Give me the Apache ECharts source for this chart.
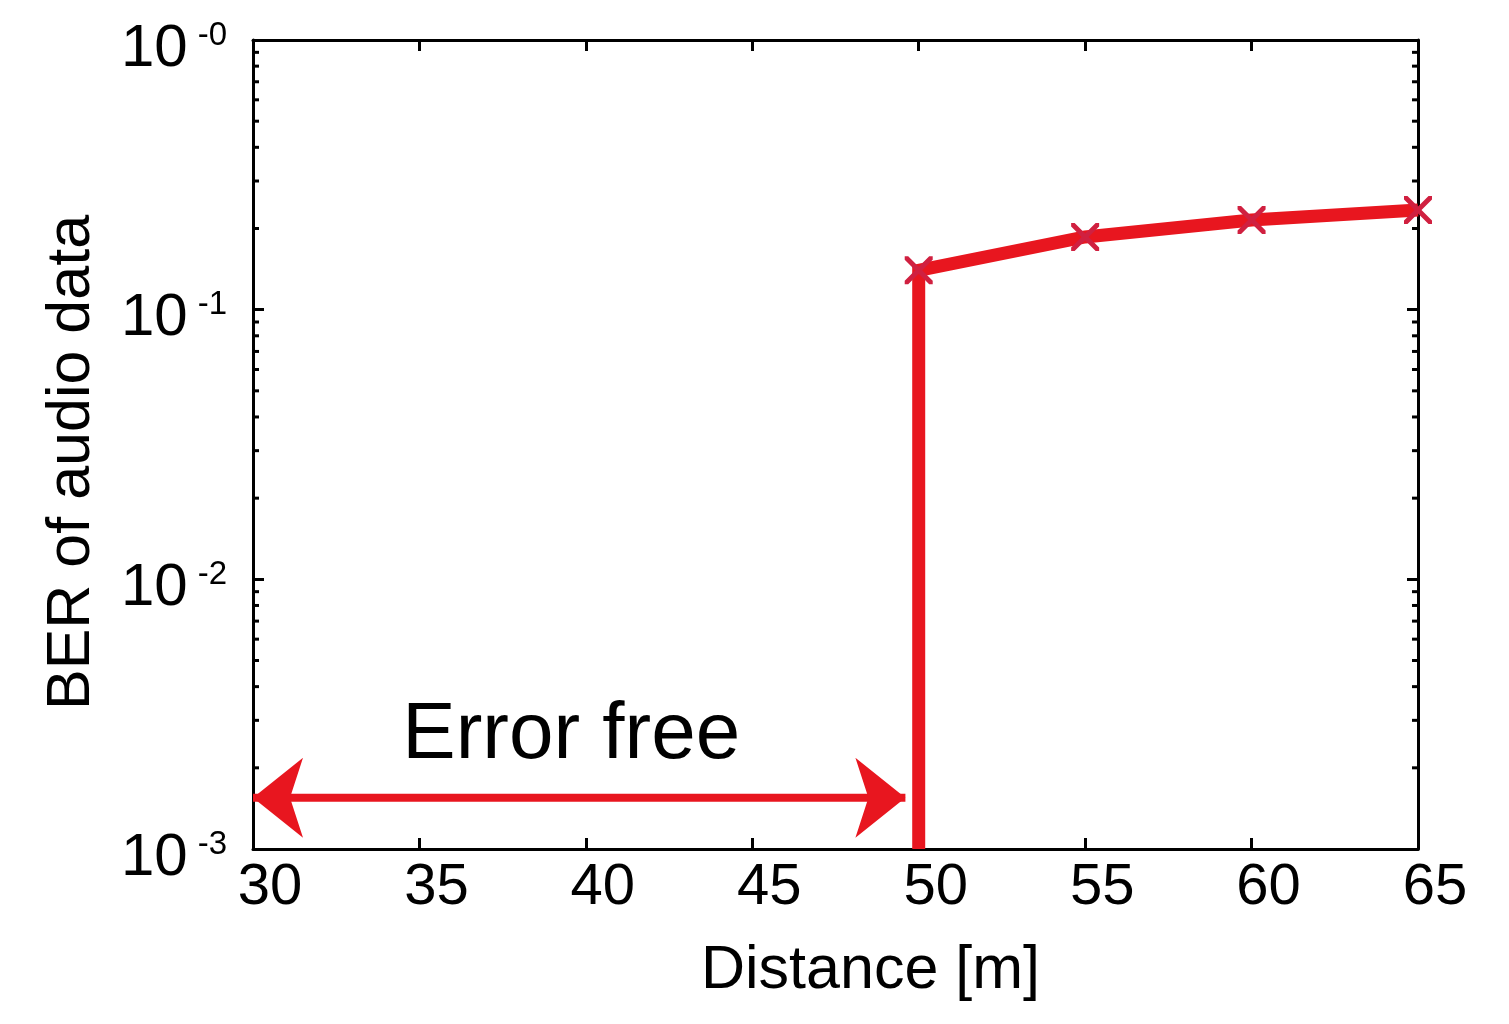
<!DOCTYPE html>
<html>
<head>
<meta charset="utf-8">
<script src="https://cdn.jsdelivr.net/npm/echarts@6/dist/echarts.min.js"></script>
<style>
  html, body { margin: 0; padding: 0; background: #ffffff; }
  #chart { width: 1509px; height: 1024px; }
</style>
</head>
<body>
<div id="chart"></div>
<script>
// Measured BER of the audio stream versus distance.
// The first entry is the error-free end of the step, drawn at the axis floor.
const distance = [50, 50, 55, 60, 65];
const ber = [0.001, 0.14, 0.186, 0.215, 0.234];
const markerShown = [false, true, true, true, true];

// Axis setup
const xMin = 30, xMax = 65, xStep = 5;
const yMin = 0.001, yMax = 1;
const minorMultipliers = [2, 3, 4, 5, 6, 7, 8, 9];
const minorDecades = [0.001, 0.01, 0.1];

// "Error free" annotation: span of the double arrow and its BER level
const errorFreeSpan = [30, 49.6];
const errorFreeLevel = 0.00155;
const errorFreeText = 'Error free';

const minorTickValues = [];
minorDecades.forEach(d => minorMultipliers.forEach(m => minorTickValues.push(m * d)));

const FONT = '"Liberation Sans", Arial, sans-serif';
const RED = '#e8161f';
const MARK = '#d02040';

// Cross marker, filled outline of an "x"
const crossPath = 'path://M0,0L2.5,0L10,7.5L17.5,0L20,0L20,2.5L12.5,10L20,17.5L20,20L17.5,20L10,12.5L2.5,20L0,20L0,17.5L7.5,10L0,2.5Z';
// Concave arrow head pointing up
const arrowPath = 'path://M40,0L80,50L40,37L0,50Z';

const lineData = distance.map((d, i) => ({
  value: [d, ber[i]],
  symbol: markerShown[i] ? crossPath : 'none'
}));

const arrowData = [
  { value: [errorFreeSpan[0], errorFreeLevel], symbolRotate: 90, symbolOffset: [25, 0] },
  { value: [errorFreeSpan[1], errorFreeLevel], symbolRotate: -90, symbolOffset: [-25, 0] }
];

const chart = echarts.init(document.getElementById('chart'), null, { renderer: 'canvas' });

const axisLine = { show: true, onZero: false, lineStyle: { color: '#000', width: 3 } };
const tickStyle = { show: true, inside: true, length: 11, lineStyle: { color: '#000', width: 3 } };

chart.setOption({
  backgroundColor: '#ffffff',
  animation: false,
  grid: { left: 253, right: 91, top: 40, bottom: 175, containLabel: false },
  xAxis: [
    {
      type: 'value', position: 'bottom', min: xMin, max: xMax, interval: xStep,
      name: 'Distance [m]', nameLocation: 'middle', nameGap: 92,
      nameTextStyle: { fontFamily: FONT, fontSize: 61, color: '#000', padding: [0, 0, 0, 70] },
      axisLine: axisLine, axisTick: tickStyle, splitLine: { show: false },
      axisLabel: { fontFamily: FONT, fontSize: 58, color: '#000', margin: 10, padding: [0, 0, 0, 34] }
    },
    {
      type: 'value', position: 'top', min: xMin, max: xMax, interval: xStep,
      axisLine: axisLine, axisTick: tickStyle, splitLine: { show: false },
      axisLabel: { show: false }
    }
  ],
  yAxis: [
    {
      type: 'log', logBase: 10, position: 'left', min: yMin, max: yMax,
      name: 'BER of audio data', nameLocation: 'middle', nameGap: 150,
      nameTextStyle: { fontFamily: FONT, fontSize: 61, color: '#000', padding: [0, 36, 0, 0] },
      axisLine: axisLine, axisTick: tickStyle, splitLine: { show: false }, minorTick: { show: false },
      axisLabel: {
        margin: 26, padding: [18, 0, 0, 0],
        formatter: v => {
          const e = Math.round(Math.log10(v));
          return '{b|10}{s|-' + Math.abs(e) + '}';
        },
        rich: {
          b: { fontFamily: FONT, fontSize: 60, color: '#000', lineHeight: 60 },
          s: { fontFamily: FONT, fontSize: 33, color: '#000', verticalAlign: 'top', lineHeight: 33, padding: [0, 0, 0, 10] }
        }
      }
    },
    {
      type: 'log', logBase: 10, position: 'right', min: yMin, max: yMax,
      axisLine: axisLine, axisTick: tickStyle, splitLine: { show: false },
      axisLabel: { show: false }
    }
  ],
  series: [
    {
      // minor ticks of the log axis at 2..9 of each decade, on both sides
      type: 'custom', xAxisIndex: 0, yAxisIndex: 0, silent: true, clip: false, z: 3,
      data: minorTickValues.map(v => [xMin, v]),
      renderItem: (params, api) => {
        const p = api.coord([xMin, api.value(1)]);
        const left = params.coordSys.x;
        const right = params.coordSys.x + params.coordSys.width;
        const st = { stroke: '#000', lineWidth: 3 };
        return {
          type: 'group',
          children: [
            { type: 'line', shape: { x1: left, y1: p[1], x2: left + 6, y2: p[1] }, style: st },
            { type: 'line', shape: { x1: right, y1: p[1], x2: right - 6, y2: p[1] }, style: st }
          ]
        };
      }
    },
    {
      name: 'Error free', type: 'line', xAxisIndex: 0, yAxisIndex: 0, z: 4,
      data: arrowData, symbol: arrowPath, symbolSize: [80, 50],
      lineStyle: { color: RED, width: 8 },
      itemStyle: { color: RED },
      silent: true
    },
    {
      name: 'BER', type: 'line', xAxisIndex: 0, yAxisIndex: 0, z: 5,
      data: lineData, symbolSize: 28, clip: false,
      lineStyle: { color: RED, width: 13, cap: 'butt', join: 'miter' },
      itemStyle: { color: MARK },
      silent: true
    }
  ]
});

// Annotation text centred above the arrow
const mid = chart.convertToPixel({ xAxisIndex: 0, yAxisIndex: 0 },
  [(errorFreeSpan[0] + errorFreeSpan[1]) / 2, errorFreeLevel]);
chart.setOption({
  graphic: [{
    type: 'text', x: mid[0] - 8, y: mid[1] - 62, z: 10,
    style: {
      text: errorFreeText, fontFamily: FONT, fontSize: 80, fill: '#000',
      textAlign: 'center', textVerticalAlign: 'middle'
    }
  }]
});
</script>
</body>
</html>
